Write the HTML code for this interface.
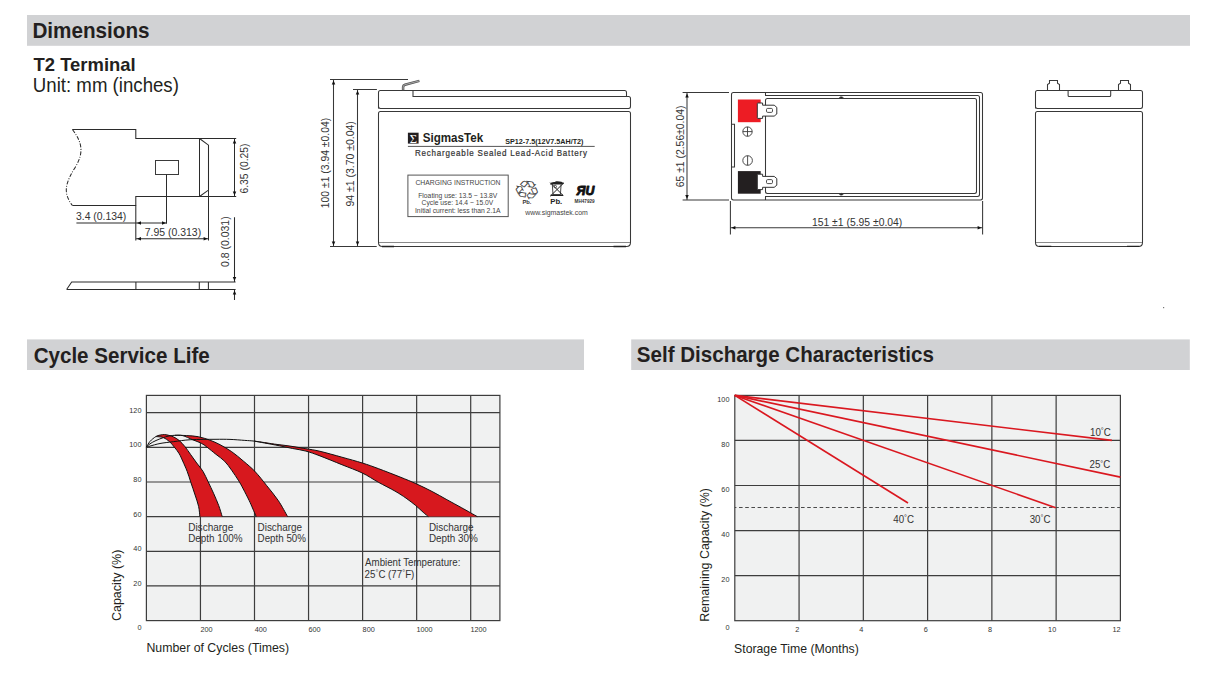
<!DOCTYPE html>
<html><head><meta charset="utf-8"><title>Dimensions</title>
<style>
html,body{margin:0;padding:0;background:#fff;}
body{width:1214px;height:686px;overflow:hidden;}
svg{display:block;font-family:"Liberation Sans", Arial, sans-serif;}
</style></head><body>
<svg width="1214" height="686" viewBox="0 0 1214 686">
<rect x="27" y="15" width="1163" height="30.8" fill="#D1D2D4"/>
<text transform="translate(32.42,37.90) scale(1,1.04)" font-size="20.68" font-weight="bold" fill="#231F20">Dimensions</text>
<text transform="translate(33.59,71.30) scale(1,1.04)" font-size="18.44" font-weight="bold" fill="#231F20">T2 Terminal</text>
<text transform="translate(32.86,92.30) scale(1,1.04)" font-size="18.66" fill="#231F20">Unit: mm (inches)</text>
<rect x="27" y="339.4" width="557" height="30.6" fill="#D1D2D4"/>
<rect x="631.2" y="339.4" width="558.6" height="30.6" fill="#D1D2D4"/>
<text transform="translate(33.66,362.50) scale(1,1.04)" font-size="20.58" font-weight="bold" fill="#231F20">Cycle Service Life</text>
<text transform="translate(636.81,362.40) scale(1,1.04)" font-size="20.56" font-weight="bold" fill="#231F20">Self Discharge Characteristics</text>
<g fill="none" stroke="#3a3a3a" stroke-width="1">
<path d="M72.4,129.5 H135.8 V138.5 H236.2" stroke="#2b2b2b" stroke-width="1.05" fill="none"/>
<path d="M72.4,205.5 H135.8 V196.5 H236.2" stroke="#2b2b2b" stroke-width="1.05" fill="none"/>
<path d="M72.4,129.5 C82,142 84,152 76,166 C66,182 62,192 72.4,205.5" stroke="#2b2b2b" stroke-width="1.05" fill="none" stroke-dasharray="4 1.5 1 1.5"/>
<path d="M199.5,138.5 V196.5" stroke="#2b2b2b" stroke-width="1.05" fill="none"/>
<path d="M199.5,138.5 L208.5,145.2 V190.1 L199.5,196.5" stroke="#2b2b2b" stroke-width="1.05" fill="none"/>
<path d="M208.5,190.1 V240.5" stroke="#2b2b2b" stroke-width="1.05" fill="none"/>
<path d="M135.8,205.5 V240.5" stroke="#2b2b2b" stroke-width="1.05" fill="none"/>
<rect x="155.5" y="160.5" width="23" height="14"/>
<path d="M166.5,174.5 V223.5" stroke="#2b2b2b" stroke-width="1.05" fill="none"/>
<path d="M76.4,223 H167" stroke="#2b2b2b" stroke-width="1.05" fill="none"/>
<path d="M136,238.8 H208.6" stroke="#2b2b2b" stroke-width="1.05" fill="none"/>
<path d="M234.5,138.5 V196.5" stroke="#2b2b2b" stroke-width="1.05" fill="none"/>
<path d="M66.6,289.5 L71.7,281.9 H235.6 M66.6,289.5 H235.6" stroke="#2b2b2b" stroke-width="1.05" fill="none"/>
<path d="M135.9,281.9 V289.5 M199.3,281.9 V289.5 M208.4,281.9 V289.5" stroke="#2b2b2b" stroke-width="1.05" fill="none"/>
<path d="M234.5,217.2 V281.9 M234.5,289.5 V300" stroke="#2b2b2b" stroke-width="1.05" fill="none"/>
</g>
<polygon points="137.00,223.00 141.00,221.25 141.00,224.75" fill="#111"/>
<polygon points="166.00,223.00 162.00,221.25 162.00,224.75" fill="#111"/>
<polygon points="137.00,238.80 141.00,237.05 141.00,240.55" fill="#111"/>
<polygon points="207.60,238.80 203.60,237.05 203.60,240.55" fill="#111"/>
<polygon points="234.50,139.50 232.75,143.50 236.25,143.50" fill="#111"/>
<polygon points="234.50,195.50 232.75,191.50 236.25,191.50" fill="#111"/>
<polygon points="234.50,280.90 232.75,276.90 236.25,276.90" fill="#111"/>
<polygon points="234.50,290.50 232.75,294.50 236.25,294.50" fill="#111"/>
<text transform="translate(76.00,219.60) scale(1,1.04)" font-size="10.41" fill="#333">3.4 (0.134)</text>
<text transform="translate(144.76,235.70) scale(1,1.04)" font-size="10.47" fill="#333">7.95 (0.313)</text>
<text transform="translate(248.30,193.53) rotate(-90) scale(1,1.04)" font-size="10.37" fill="#333">6.35 (0.25)</text>
<text transform="translate(229.40,266.91) rotate(-90) scale(1,1.04)" font-size="10.45" fill="#333">0.8 (0.031)</text>
<g fill="none" stroke="#3a3a3a" stroke-width="1">
<path d="M330,79.5 H408" stroke="#383838" stroke-width="1.05" fill="none"/>
<path d="M353,89.5 H376.9" stroke="#383838" stroke-width="1.05" fill="none"/>
<path d="M330,246.5 H376.7" stroke="#383838" stroke-width="1.05" fill="none"/>
<path d="M333.5,79.5 V246.5 M357.5,89.5 V246.5" stroke="#383838" stroke-width="1.05" fill="none"/>
<path d="M378.5,108.5 V92.5 Q378.5,90.5 380.5,90.5 H624.5 Q626.5,90.5 626.5,92.5 V96.5" stroke="#383838" stroke-width="1.05" fill="none"/>
<path d="M413,90.5 V96.5 H628.5 Q630.5,96.5 630.5,98.5 V106.5 Q630.5,108.5 628.5,108.5 H380.5 Q378.5,108.5 378.5,106.5" stroke="#383838" stroke-width="1.05" fill="none"/>
<path d="M380.5,111.5 H628.5 Q630.5,111.5 630.5,113.5 V242.5 Q630.5,246.5 626.5,246.5 H382.5 Q378.5,246.5 378.5,242.5 V113.5 Q378.5,111.5 380.5,111.5" stroke="#383838" stroke-width="1.05" fill="none"/>
<path d="M379,242.5 H630" stroke="#8a8a8a" stroke-width="1.05" fill="none"/>
</g>
<path d="M382,246.5 H394 M613.5,246.5 H626" stroke="#222" stroke-width="1.4" fill="none"/>
<path d="M403.1,90.2 V87 Q403.1,85.3 405,84.7 L419.4,80.9" stroke="#555" stroke-width="2.5" fill="none"/>
<path d="M403.1,89.8 V87 Q403.1,85.3 405,84.7 L419,81.0" stroke="#ddd" stroke-width="0.6" fill="none"/>
<polygon points="333.50,80.50 331.75,84.50 335.25,84.50" fill="#111"/>
<polygon points="333.50,245.50 331.75,241.50 335.25,241.50" fill="#111"/>
<polygon points="357.50,90.50 355.75,94.50 359.25,94.50" fill="#111"/>
<polygon points="357.50,245.50 355.75,241.50 359.25,241.50" fill="#111"/>
<text transform="translate(328.90,208.19) rotate(-90) scale(1,1.04)" font-size="10.38" fill="#333">100 ±1 (3.94 ±0.04)</text>
<text transform="translate(353.60,206.49) rotate(-90) scale(1,1.04)" font-size="10.46" fill="#333">94 ±1 (3.70 ±0.04)</text>
<rect x="407.9" y="132.7" width="10.7" height="10.9" fill="#231F20"/>
<text x="413.4" y="142.6" font-size="12.5" font-family="Liberation Serif, serif" fill="#fff" text-anchor="middle">Σ</text>
<text transform="translate(422.77,141.60) scale(1,1.04)" font-size="11.61" font-weight="bold" fill="#231F20">SigmasTek</text>
<text transform="translate(505.19,143.60) scale(1,1.04)" font-size="7.19" font-weight="bold" fill="#231F20">SP12-7.5(12V7.5AH/T2)</text>
<path d="M407.9,146.4 H594.7" stroke="#555" stroke-width="1" fill="none"/>
<text transform="translate(414.94,156.00) scale(1,1.04)" font-size="8.00" fill="#333" textLength="172" lengthAdjust="spacing" stroke="#333" stroke-width="0.2">Rechargeable Sealed Lead-Acid Battery</text>
<rect x="407.9" y="175.1" width="100.3" height="41.5" fill="none" stroke="#555" stroke-width="1"/>
<text transform="translate(415.45,184.80) scale(1,1.04)" font-size="6.81" fill="#444">CHARGING INSTRUCTION</text>
<text transform="translate(418.24,197.70) scale(1,1.04)" font-size="6.77" fill="#444">Floating use: 13.5 ~ 13.8V</text>
<text transform="translate(421.56,205.10) scale(1,1.04)" font-size="6.75" fill="#444">Cycle use: 14.4 ~ 15.0V</text>
<text transform="translate(414.97,212.50) scale(1,1.04)" font-size="6.80" fill="#444">Initial current: less than 2.1A</text>
<text transform="translate(525.21,215.00) scale(1,1.04)" font-size="6.92" fill="#444">www.sigmastek.com</text>
<text transform="rotate(8,526.7,190.3) translate(513.3,199) scale(0.301,0.252)" font-size="100" font-family="DejaVu Sans, sans-serif" fill="#333" stroke="#333" stroke-width="0.8">&#x2672;</text>
<text transform="translate(522.41,204.30) scale(1,1.04)" font-size="5.80" font-weight="bold" fill="#333">Pb.</text>
<path d="M552.3,184.4 L553,194.6 H560.4 L561.1,184.4" fill="none" stroke="#333" stroke-width="0.9"/>
<path d="M549.9,184.2 Q551,181.6 555,182 Q555.5,180.9 557,181.3 Q562,181.2 564,183.2 Q563.5,184.6 561,184.6 H552 Q550,184.6 549.9,184.2 Z" fill="#222"/>
<path d="M550.2,182.6 L563.2,195.6 M563.8,182.8 L550.3,196.2" stroke="#222" stroke-width="1"/>
<path d="M550.6,195.3 H563" stroke="#222" stroke-width="1.4"/>
<circle cx="555.2" cy="186.6" r="1.3" fill="none" stroke="#333" stroke-width="0.8"/>
<text transform="translate(550.28,204.30) scale(1,1.04)" font-size="7.70" font-weight="bold" fill="#222">Pb.</text>
<text transform="translate(576.45,194.8) scale(0.1228,0.135)" font-size="100" font-weight="bold" font-style="italic" fill="#111" stroke="#111" stroke-width="7" stroke-linejoin="round">ЯU</text>
<text transform="translate(574.59,202.80) scale(1,1.04)" font-size="4.60" font-weight="bold" fill="#333" textLength="20" lengthAdjust="spacingAndGlyphs">MH47929</text>
<g fill="none" stroke="#3a3a3a" stroke-width="1">
<path d="M682.6,92.5 H729 M682.6,200 H729" stroke="#383838" stroke-width="1.05" fill="none"/>
<path d="M687,92.5 V200" stroke="#383838" stroke-width="1.05" fill="none"/>
<path d="M730.4,201 V234.5 M982.6,201 V234.5" stroke="#383838" stroke-width="1.05" fill="none"/>
<path d="M730.4,227.7 H982.6" stroke="#383838" stroke-width="1.05" fill="none"/>
<path d="M733.5,92.5 H980.5 Q982.5,92.5 982.5,94.5 V198 Q982.5,200 980.5,200 H733.5 Q731.5,200 731.5,198 V94.5 Q731.5,92.5 733.5,92.5" stroke="#383838" stroke-width="1.05" fill="none"/>
<path d="M765.5,92.5 V95.5 H977.5 Q979.5,95.5 979.5,97.5 V194.5 Q979.5,196.5 977.5,196.5 H765.5 V200" stroke="#383838" stroke-width="1.05" fill="none"/>
<path d="M767.5,98.5 H974.5 Q976.5,98.5 976.5,100.5 V191.5 Q976.5,193.5 974.5,193.5 H767.5 Q765.5,193.5 765.5,191.5 V100.5 Q765.5,98.5 767.5,98.5" stroke="#383838" stroke-width="1.05" fill="none"/>
<ellipse cx="841.3" cy="97.7" rx="1.7" ry="0.8" fill="#111"/><ellipse cx="841.3" cy="194.2" rx="1.7" ry="0.8" fill="#111"/>
<path d="M731.5,124.3 H734.5 V167 H731.5" stroke="#383838" stroke-width="1.05" fill="none"/>
</g>
<polygon points="687.00,93.50 685.25,97.50 688.75,97.50" fill="#111"/>
<polygon points="687.00,199.00 685.25,195.00 688.75,195.00" fill="#111"/>
<polygon points="731.40,227.70 735.40,225.95 735.40,229.45" fill="#111"/>
<polygon points="981.60,227.70 977.60,225.95 977.60,229.45" fill="#111"/>
<rect x="737.9" y="99.5" width="22.8" height="22.7" fill="#ED1C24"/>
<rect x="737.9" y="171.1" width="22.8" height="22.6" fill="#231F20"/>
<path d="M757.3,103.6 Q757.3,103 758,103 H762.6 V105.2 H774.2 L776.8,107.4 V114 L774.2,116.1 H762.6 V118.4 H758 Q757.3,118.4 757.3,117.8 Z" stroke="#333" stroke-width="1" fill="#fff"/>
<rect x="766.5" y="108.4" width="6" height="4" rx="1.2" fill="none" stroke="#3a3a3a" stroke-width="0.9"/>
<path d="M757.3,174.79999999999998 Q757.3,174.2 758,174.2 H762.6 V176.39999999999998 H774.2 L776.8,178.6 V185.2 L774.2,187.29999999999998 H762.6 V189.6 H758 Q757.3,189.6 757.3,189.0 Z" stroke="#333" stroke-width="1" fill="#fff"/>
<rect x="766.5" y="179.6" width="6" height="4" rx="1.2" fill="none" stroke="#3a3a3a" stroke-width="0.9"/>
<g fill="none" stroke="#3a3a3a" stroke-width="0.9">
<circle cx="747.5" cy="131.6" r="4.7"/><path d="M742.8,131.6 H752.2 M747.5,126.9 V136.3"/>
<circle cx="747.6" cy="160.5" r="4.8"/><path d="M747.6,155.7 V165.3"/>
</g>
<text transform="translate(684.20,187.23) rotate(-90) scale(1,1.04)" font-size="10.39" fill="#333">65 ±1 (2.56±0.04)</text>
<text transform="translate(811.91,225.70) scale(1,1.04)" font-size="10.38" fill="#333">151 ±1 (5.95 ±0.04)</text>
<g fill="none" stroke="#3a3a3a" stroke-width="1">
<path d="M1035.5,108.5 V92.5 Q1035.5,90.5 1037.5,90.5 H1140.5 Q1142.5,90.5 1142.5,92.5 V106.5 Q1142.5,108.5 1140.5,108.5 H1037.5 Q1035.5,108.5 1035.5,106.5" stroke="#383838" stroke-width="1.05" fill="none"/>
<path d="M1068.1,90.5 V95.5 Q1068.1,96.5 1069.1,96.5 H1109.7 Q1110.7,96.5 1110.7,95.5 V90.5" stroke="#383838" stroke-width="1.05" fill="none"/>
<path d="M1037.5,111.5 H1140.5 Q1142.5,111.5 1142.5,113.5 V242.5 Q1142.5,246.5 1138.5,246.5 H1039.5 Q1035.5,246.5 1035.5,242.5 V113.5 Q1035.5,111.5 1037.5,111.5" stroke="#383838" stroke-width="1.05" fill="none"/>
<path d="M1036,242.5 H1142" stroke="#8a8a8a" stroke-width="1.05" fill="none"/>
<path d="M1047.5,90.5 V84.6 L1049.5,83.3 V80.5 H1057.5 V83.3 L1059.5,84.6 V90.5" stroke="#383838" stroke-width="1.05" fill="none"/>
<path d="M1118.5,90.5 V84.6 L1120.5,83.3 V80.5 H1128.5 V83.3 L1130.5,84.6 V90.5" stroke="#383838" stroke-width="1.05" fill="none"/>
</g>
<path d="M1039,246.4 H1051.3 M1127,246.4 H1139.3" stroke="#222" stroke-width="1.4" fill="none"/>
<rect x="1163" y="307" width="1.2" height="1.2" fill="#777"/>
<rect x="146.4" y="395.4" width="353.5" height="225.20000000000005" fill="#F0F1F1"/>
<path d="M200.45,395.4 V620.6 M254.50,395.4 V620.6 M308.55,395.4 V620.6 M362.60,395.4 V620.6 M416.65,395.4 V620.6 M470.70,395.4 V620.6 M146.4,585.95 H499.9 M146.4,551.30 H499.9 M146.4,516.65 H499.9 M146.4,482.00 H499.9 M146.4,447.35 H499.9 M146.4,412.70 H499.9" stroke="#3d3d3d" stroke-width="1.2" fill="none"/>
<rect x="146.4" y="395.4" width="353.5" height="225.20000000000005" fill="none" stroke="#3d3d3d" stroke-width="1.2"/>
<path d="M155.80,436.60 C156.50,436.35 158.53,435.43 160.00,435.10 C161.47,434.77 163.10,434.55 164.60,434.60 C166.10,434.65 167.55,435.03 169.00,435.40 C170.45,435.77 171.60,435.95 173.30,436.80 C175.00,437.65 177.25,438.85 179.20,440.50 C181.15,442.15 183.07,444.32 185.00,446.70 C186.93,449.08 188.85,452.08 190.80,454.80 C192.75,457.52 194.67,460.23 196.70,463.00 C198.73,465.77 201.08,468.25 203.00,471.40 C204.92,474.55 206.45,478.27 208.20,481.90 C209.95,485.53 211.75,489.27 213.50,493.20 C215.25,497.13 217.25,501.60 218.70,505.50 C220.15,509.40 221.62,514.75 222.20,516.60 L199.90,516.60 C199.68,514.90 199.40,510.00 198.60,506.40 C197.80,502.80 196.42,499.08 195.10,495.00 C193.78,490.92 192.02,485.83 190.70,481.90 C189.38,477.97 188.53,474.88 187.20,471.40 C185.87,467.92 184.03,463.95 182.70,461.00 C181.37,458.05 180.57,455.98 179.20,453.70 C177.83,451.42 176.15,449.35 174.50,447.30 C172.85,445.25 171.15,443.02 169.30,441.40 C167.45,439.78 165.12,438.37 163.40,437.60 C161.68,436.83 160.27,436.97 159.00,436.80 C157.73,436.63 156.33,436.63 155.80,436.60 Z" stroke="none" stroke-width="0" fill="#D7181E"/>
<path d="M175.00,435.30 C176.95,435.35 182.82,435.37 186.70,435.60 C190.58,435.83 194.42,435.93 198.30,436.70 C202.18,437.47 206.38,438.87 210.00,440.20 C213.62,441.53 216.38,442.78 220.00,444.70 C223.62,446.62 227.82,448.98 231.70,451.70 C235.58,454.42 239.42,457.70 243.30,461.00 C247.18,464.30 251.12,467.42 255.00,471.50 C258.88,475.58 262.72,480.65 266.60,485.50 C270.48,490.35 274.80,495.42 278.30,500.60 C281.80,505.78 286.05,513.93 287.60,516.60 L256.20,516.60 C255.58,515.17 253.67,510.67 252.50,508.00 C251.33,505.33 250.73,503.77 249.20,500.60 C247.67,497.43 245.05,492.30 243.30,489.00 C241.55,485.70 240.63,483.92 238.70,480.80 C236.77,477.68 234.05,473.57 231.70,470.30 C229.35,467.03 227.25,463.88 224.60,461.20 C221.95,458.52 218.72,456.53 215.80,454.20 C212.88,451.87 209.53,449.03 207.10,447.20 C204.67,445.37 203.63,444.45 201.20,443.20 C198.77,441.95 195.60,440.97 192.50,439.70 C189.40,438.43 185.52,436.33 182.60,435.60 C179.68,434.87 176.27,435.35 175.00,435.30 Z" stroke="none" stroke-width="0" fill="#D7181E"/>
<path d="M254.20,441.10 C255.93,441.35 261.22,442.10 264.60,442.60 C267.98,443.10 270.27,443.52 274.50,444.10 C278.73,444.68 284.77,445.33 290.00,446.10 C295.23,446.87 300.90,447.83 305.90,448.70 C310.90,449.57 314.00,449.88 320.00,451.30 C326.00,452.72 334.85,455.25 341.90,457.20 C348.95,459.15 356.23,461.10 362.30,463.00 C368.37,464.90 372.02,466.27 378.30,468.60 C384.58,470.93 393.75,474.50 400.00,477.00 C406.25,479.50 410.45,481.18 415.80,483.60 C421.15,486.02 426.92,488.82 432.10,491.50 C437.28,494.18 441.97,496.98 446.90,499.70 C451.83,502.42 456.63,504.98 461.70,507.80 C466.77,510.62 474.70,515.13 477.30,516.60 L428.40,516.60 C427.53,515.88 425.30,514.13 423.20,512.30 C421.10,510.47 418.65,507.95 415.80,505.60 C412.95,503.25 409.57,500.62 406.10,498.20 C402.63,495.78 399.63,493.77 395.00,491.10 C390.37,488.43 383.75,485.22 378.30,482.20 C372.85,479.18 368.37,475.92 362.30,473.00 C356.23,470.08 348.95,467.55 341.90,464.70 C334.85,461.85 326.00,458.17 320.00,455.90 C314.00,453.63 310.45,452.33 305.90,451.10 C301.35,449.87 297.10,449.38 292.70,448.50 C288.30,447.62 284.18,446.72 279.50,445.80 C274.82,444.88 268.82,443.78 264.60,443.00 C260.38,442.22 255.93,441.42 254.20,441.10 Z" stroke="none" stroke-width="0" fill="#D7181E"/>
<path d="M146.40,447.10 C147.00,446.15 148.43,443.15 150.00,441.40 C151.57,439.65 154.13,437.65 155.80,436.60 C157.47,435.55 158.53,435.43 160.00,435.10 C161.47,434.77 163.10,434.55 164.60,434.60 C166.10,434.65 167.55,435.03 169.00,435.40 C170.45,435.77 171.60,435.95 173.30,436.80 C175.00,437.65 177.25,438.85 179.20,440.50 C181.15,442.15 183.07,444.32 185.00,446.70 C186.93,449.08 188.85,452.08 190.80,454.80 C192.75,457.52 194.67,460.23 196.70,463.00 C198.73,465.77 201.08,468.25 203.00,471.40 C204.92,474.55 206.45,478.27 208.20,481.90 C209.95,485.53 211.75,489.27 213.50,493.20 C215.25,497.13 217.25,501.60 218.70,505.50 C220.15,509.40 221.62,514.75 222.20,516.60" stroke="#111" stroke-width="1.0" fill="none"/>
<path d="M199.90,516.60 C199.68,514.90 199.40,510.00 198.60,506.40 C197.80,502.80 196.42,499.08 195.10,495.00 C193.78,490.92 192.02,485.83 190.70,481.90 C189.38,477.97 188.53,474.88 187.20,471.40 C185.87,467.92 184.03,463.95 182.70,461.00 C181.37,458.05 180.57,455.98 179.20,453.70 C177.83,451.42 176.15,449.35 174.50,447.30 C172.85,445.25 171.15,443.02 169.30,441.40 C167.45,439.78 165.12,438.37 163.40,437.60 C161.68,436.83 160.27,436.97 159.00,436.80 C157.73,436.63 156.33,436.63 155.80,436.60" stroke="#111" stroke-width="1.0" fill="none"/>
<path d="M146.40,447.10 C147.00,446.55 148.40,444.90 150.00,443.80 C151.60,442.70 153.77,441.53 156.00,440.50 C158.23,439.47 161.40,438.32 163.40,437.60 C165.40,436.88 166.07,436.58 168.00,436.20 C169.93,435.82 171.88,435.40 175.00,435.30 C178.12,435.20 182.82,435.37 186.70,435.60 C190.58,435.83 194.42,435.93 198.30,436.70 C202.18,437.47 206.38,438.87 210.00,440.20 C213.62,441.53 216.38,442.78 220.00,444.70 C223.62,446.62 227.82,448.98 231.70,451.70 C235.58,454.42 239.42,457.70 243.30,461.00 C247.18,464.30 251.12,467.42 255.00,471.50 C258.88,475.58 262.72,480.65 266.60,485.50 C270.48,490.35 274.80,495.42 278.30,500.60 C281.80,505.78 286.05,513.93 287.60,516.60" stroke="#111" stroke-width="1.0" fill="none"/>
<path d="M256.20,516.60 C255.58,515.17 253.67,510.67 252.50,508.00 C251.33,505.33 250.73,503.77 249.20,500.60 C247.67,497.43 245.05,492.30 243.30,489.00 C241.55,485.70 240.63,483.92 238.70,480.80 C236.77,477.68 234.05,473.57 231.70,470.30 C229.35,467.03 227.25,463.88 224.60,461.20 C221.95,458.52 218.72,456.53 215.80,454.20 C212.88,451.87 209.53,449.03 207.10,447.20 C204.67,445.37 203.63,444.45 201.20,443.20 C198.77,441.95 195.60,440.97 192.50,439.70 C189.40,438.43 185.52,436.33 182.60,435.60 C179.68,434.87 176.27,435.35 175.00,435.30" stroke="#111" stroke-width="1.0" fill="none"/>
<path d="M146.40,447.10 C147.00,446.93 147.73,446.70 150.00,446.10 C152.27,445.50 156.12,444.23 160.00,443.50 C163.88,442.77 168.17,442.33 173.30,441.70 C178.43,441.07 183.85,440.10 190.80,439.70 C197.75,439.30 208.47,439.35 215.00,439.30 C221.53,439.25 225.03,439.22 230.00,439.40 C234.97,439.58 240.77,440.12 244.80,440.40 C248.83,440.68 250.90,440.73 254.20,441.10 C257.50,441.47 261.22,442.10 264.60,442.60 C267.98,443.10 270.27,443.52 274.50,444.10 C278.73,444.68 284.77,445.33 290.00,446.10 C295.23,446.87 300.90,447.83 305.90,448.70 C310.90,449.57 314.00,449.88 320.00,451.30 C326.00,452.72 334.85,455.25 341.90,457.20 C348.95,459.15 356.23,461.10 362.30,463.00 C368.37,464.90 372.02,466.27 378.30,468.60 C384.58,470.93 393.75,474.50 400.00,477.00 C406.25,479.50 410.45,481.18 415.80,483.60 C421.15,486.02 426.92,488.82 432.10,491.50 C437.28,494.18 441.97,496.98 446.90,499.70 C451.83,502.42 456.63,504.98 461.70,507.80 C466.77,510.62 474.70,515.13 477.30,516.60" stroke="#111" stroke-width="1.0" fill="none"/>
<path d="M428.40,516.60 C427.53,515.88 425.30,514.13 423.20,512.30 C421.10,510.47 418.65,507.95 415.80,505.60 C412.95,503.25 409.57,500.62 406.10,498.20 C402.63,495.78 399.63,493.77 395.00,491.10 C390.37,488.43 383.75,485.22 378.30,482.20 C372.85,479.18 368.37,475.92 362.30,473.00 C356.23,470.08 348.95,467.55 341.90,464.70 C334.85,461.85 326.00,458.17 320.00,455.90 C314.00,453.63 310.45,452.33 305.90,451.10 C301.35,449.87 297.10,449.38 292.70,448.50 C288.30,447.62 284.18,446.72 279.50,445.80 C274.82,444.88 268.82,443.78 264.60,443.00 C260.38,442.22 255.93,441.42 254.20,441.10" stroke="#111" stroke-width="1.0" fill="none"/>
<text transform="translate(137.43,629.61) scale(1,1.04)" font-size="7.30" fill="#333">0</text>
<text transform="translate(133.37,586.06) scale(1,1.04)" font-size="7.30" fill="#333">20</text>
<text transform="translate(133.37,551.41) scale(1,1.04)" font-size="7.30" fill="#333">40</text>
<text transform="translate(133.37,516.76) scale(1,1.04)" font-size="7.30" fill="#333">60</text>
<text transform="translate(133.37,482.11) scale(1,1.04)" font-size="7.30" fill="#333">80</text>
<text transform="translate(129.31,447.46) scale(1,1.04)" font-size="7.30" fill="#333">100</text>
<text transform="translate(129.31,412.81) scale(1,1.04)" font-size="7.30" fill="#333">120</text>
<text transform="translate(200.38,632.10) scale(1,1.04)" font-size="7.30" fill="#333">200</text>
<text transform="translate(254.63,632.10) scale(1,1.04)" font-size="7.30" fill="#333">400</text>
<text transform="translate(308.48,632.10) scale(1,1.04)" font-size="7.30" fill="#333">600</text>
<text transform="translate(362.58,632.10) scale(1,1.04)" font-size="7.30" fill="#333">800</text>
<text transform="translate(416.39,632.10) scale(1,1.04)" font-size="7.30" fill="#333">1000</text>
<text transform="translate(470.44,632.10) scale(1,1.04)" font-size="7.30" fill="#333">1200</text>
<text transform="translate(146.39,652.30) scale(1,1.04)" font-size="12.34" fill="#231F20">Number of Cycles (Times)</text>
<text transform="translate(121.30,621.03) rotate(-90) scale(1,1.04)" font-size="12.48" fill="#231F20">Capacity (%)</text>
<text transform="translate(188.18,530.60) scale(1,1.04)" font-size="10.01" fill="#333">Discharge</text>
<text transform="translate(188.19,541.80) scale(1,1.04)" font-size="9.90" fill="#333">Depth 100%</text>
<text transform="translate(257.59,530.60) scale(1,1.04)" font-size="9.90" fill="#333">Discharge</text>
<text transform="translate(257.60,541.80) scale(1,1.04)" font-size="9.79" fill="#333">Depth 50%</text>
<text transform="translate(428.88,530.60) scale(1,1.04)" font-size="9.94" fill="#333">Discharge</text>
<text transform="translate(428.89,542.10) scale(1,1.04)" font-size="9.90" fill="#333">Depth 30%</text>
<text transform="translate(365.08,565.70) scale(1,1.04)" font-size="9.72" fill="#333">Ambient Temperature:</text>
<text transform="translate(364.61,577.50) scale(1,1.04)" font-size="9.75" fill="#333">25<tspan font-size="7.31" dy="-2.15">°</tspan><tspan font-size="9.75" dy="2.15">C (77</tspan><tspan font-size="7.31" dy="-2.15">°</tspan><tspan font-size="9.75" dy="2.15">F)</tspan></text>
<rect x="734.8" y="395.4" width="385.60000000000014" height="225.30000000000007" fill="#F0F1F1"/>
<path d="M799.07,395.4 V620.7 M863.33,395.4 V620.7 M927.60,395.4 V620.7 M991.87,395.4 V620.7 M1056.13,395.4 V620.7 M734.8,575.64 H1120.4 M734.8,530.58 H1120.4 M734.8,485.52 H1120.4 M734.8,440.46 H1120.4" stroke="#3d3d3d" stroke-width="1.2" fill="none"/>
<rect x="734.8" y="395.4" width="385.60000000000014" height="225.30000000000007" fill="none" stroke="#3d3d3d" stroke-width="1.2"/>
<path d="M734.8,507.5 H1120.4" stroke="#4a4a4a" stroke-width="1.1" fill="none" stroke-dasharray="3.6 2.6" stroke-dashoffset="2"/>
<path d="M734.8,395.4 L1111.9,440.4" stroke="#DA1820" stroke-width="1.6" fill="none"/>
<path d="M734.8,395.4 L1120.4,477.1" stroke="#DA1820" stroke-width="1.6" fill="none"/>
<path d="M734.8,395.4 L1055.7,507.7" stroke="#DA1820" stroke-width="1.6" fill="none"/>
<path d="M734.8,395.4 L908,503" stroke="#DA1820" stroke-width="1.6" fill="none"/>
<text transform="translate(725.43,630.21) scale(1,1.04)" font-size="7.30" fill="#333">0</text>
<text transform="translate(721.37,581.95) scale(1,1.04)" font-size="7.30" fill="#333">20</text>
<text transform="translate(721.37,536.89) scale(1,1.04)" font-size="7.30" fill="#333">40</text>
<text transform="translate(721.37,491.83) scale(1,1.04)" font-size="7.30" fill="#333">60</text>
<text transform="translate(721.37,446.77) scale(1,1.04)" font-size="7.30" fill="#333">80</text>
<text transform="translate(717.31,401.71) scale(1,1.04)" font-size="7.30" fill="#333">100</text>
<text transform="translate(795.17,632.40) scale(1,1.04)" font-size="7.30" fill="#333">2</text>
<text transform="translate(859.29,632.40) scale(1,1.04)" font-size="7.30" fill="#333">4</text>
<text transform="translate(923.66,632.40) scale(1,1.04)" font-size="7.30" fill="#333">6</text>
<text transform="translate(987.92,632.40) scale(1,1.04)" font-size="7.30" fill="#333">8</text>
<text transform="translate(1048.10,632.40) scale(1,1.04)" font-size="7.30" fill="#333">10</text>
<text transform="translate(1112.45,632.40) scale(1,1.04)" font-size="7.30" fill="#333">12</text>
<text transform="translate(734.04,653.10) scale(1,1.04)" font-size="12.29" fill="#231F20">Storage Time (Months)</text>
<text transform="translate(709.30,621.82) rotate(-90) scale(1,1.04)" font-size="12.41" fill="#231F20">Remaining Capacity (%)</text>
<text transform="translate(1089.96,435.60) scale(1,1.04)" font-size="9.75" fill="#333">10<tspan font-size="7.31" dy="-2.15">°</tspan><tspan font-size="9.75" dy="2.15">C</tspan></text>
<text transform="translate(1089.51,468.10) scale(1,1.04)" font-size="9.75" fill="#333">25<tspan font-size="7.31" dy="-2.15">°</tspan><tspan font-size="9.75" dy="2.15">C</tspan></text>
<text transform="translate(893.28,522.60) scale(1,1.04)" font-size="9.75" fill="#333">40<tspan font-size="7.31" dy="-2.15">°</tspan><tspan font-size="9.75" dy="2.15">C</tspan></text>
<text transform="translate(1029.63,522.60) scale(1,1.04)" font-size="9.75" fill="#333">30<tspan font-size="7.31" dy="-2.15">°</tspan><tspan font-size="9.75" dy="2.15">C</tspan></text>
</svg>
</body></html>
